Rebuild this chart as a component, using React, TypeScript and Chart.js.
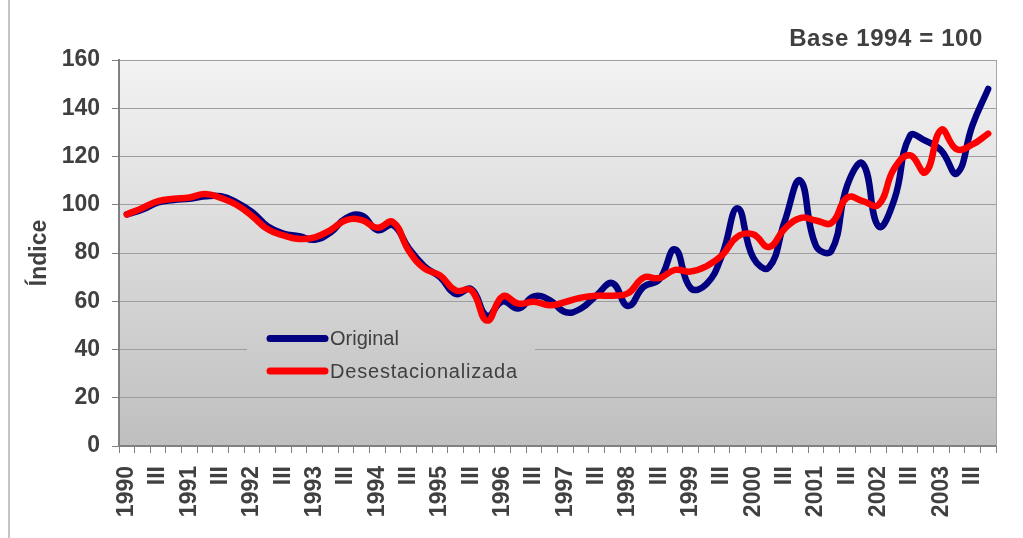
import React, { useEffect, useRef } from "react";
import { Chart, registerables } from "chart.js";

Chart.register(...registerables);

const years = [1990, 1991, 1992, 1993, 1994, 1995, 1996, 1997, 1998, 1999, 2000, 2001, 2002, 2003];
const quarterMarks = ["", "", "III", ""];
const seriesNames = ["Original", "Desestacionalizada"];
const chartTitle = "Base 1994 = 100";
const yAxisTitle = "Índice";
const yMin = 0;
const yMax = 160;
const yStep = 20;

const original = [
  96, 98, 101, 102, 102.5, 103.5, 103.5, 101,
  97, 91, 88, 87, 85.5, 88.5, 94.5, 95.5,
  89.5, 91.5, 82, 74.5, 70, 63, 65, 54,
  60, 57, 62, 60.5, 55.5, 57, 62.5, 67.5,
  58, 66, 69, 81.5, 65.5, 67, 79, 98.5,
  78, 74, 93, 110, 83, 81, 108, 117,
  91, 102, 128.5, 126.5, 122.5, 113, 133, 148,
];

const seasonallyAdjusted = [
  96, 98.7, 101.5, 102.5, 103, 104.5, 102.8, 100,
  95.3, 89.8, 87.3, 85.8, 86.5, 89.5, 93.6, 93.6,
  90.5, 92.8, 81, 73.6, 70.7, 64.5, 64.5, 52,
  62, 59, 59.8, 58.3, 59.7, 61.5, 62.3, 62.3,
  63.3, 69.8, 69.6, 73, 72.3, 74.5, 79, 86.8,
  87.7, 82.5, 90, 94.5, 93.5, 92.5, 103, 101.5,
  100, 115, 120.5, 113.5, 131, 123, 125, 129.5,
];

const labels = years.flatMap((y) => quarterMarks.map((q, i) => (i === 0 ? String(y) : q)));

const FONT = '"Liberation Sans", Arial, Helvetica, sans-serif';
const TEXT = "#404040";

function plotGradient(ctx: CanvasRenderingContext2D, top: number, bottom: number) {
  const g = ctx.createLinearGradient(0, top, 0, bottom);
  g.addColorStop(0, "#f3f3f3");
  g.addColorStop(1, "#bfbfbf");
  return g;
}

const backgroundPlugin = {
  id: "plotBackground",
  beforeDraw(chart: any) {
    const { ctx, chartArea } = chart;
    const { left, top, right, bottom } = chartArea;
    ctx.save();
    ctx.fillStyle = plotGradient(ctx, top, bottom);
    ctx.fillRect(left, top, right - left, bottom - top);
    ctx.restore();
  },
  beforeDatasetsDraw(chart: any) {
    const { ctx, chartArea } = chart;
    const { top, right, bottom } = chartArea;
    ctx.save();
    ctx.strokeStyle = "#a6a6a6";
    ctx.lineWidth = 1;
    ctx.beginPath();
    ctx.moveTo(right + 0.5, top);
    ctx.lineTo(right + 0.5, bottom);
    ctx.stroke();

    // legend box (same fill as plot background, hides grid lines)
    const bx = 247;
    const by = 322;
    const bw = 288;
    const bh = 68;
    ctx.fillStyle = plotGradient(ctx, top, bottom);
    ctx.fillRect(bx, by, bw, bh);

    const ds = chart.data.datasets;
    const rows = [338.5, 371];
    const spacing = ["0px", "0.8px"];
    [0, 1].forEach((di, r) => {
      const d = ds[di];
      const y = rows[r];
      ctx.strokeStyle = d.borderColor;
      ctx.lineWidth = 7;
      ctx.lineCap = "round";
      ctx.beginPath();
      ctx.moveTo(270, y);
      ctx.lineTo(325, y);
      ctx.stroke();
      ctx.fillStyle = TEXT;
      ctx.font = `20px ${FONT}`;
      (ctx as any).letterSpacing = spacing[r];
      ctx.textAlign = "left";
      ctx.textBaseline = "middle";
      ctx.fillText(d.label, 330, y + 1);
    });
    (ctx as any).letterSpacing = "0px";
    ctx.restore();
  },
  afterDraw(chart: any) {
    const { ctx } = chart;
    ctx.save();
    ctx.fillStyle = TEXT;
    ctx.font = `bold 24px ${FONT}`;
    (ctx as any).letterSpacing = "0.6px";
    ctx.textAlign = "right";
    ctx.textBaseline = "middle";
    ctx.fillText(chartTitle, 983, 39);
    (ctx as any).letterSpacing = "0px";
    ctx.restore();
  },
};

export default function App() {
  const canvasRef = useRef<HTMLCanvasElement | null>(null);

  useEffect(() => {
    if (!canvasRef.current) return;
    const chart = new Chart(canvasRef.current, {
      type: "line",
      data: {
        labels,
        datasets: [
          {
            label: seriesNames[0],
            data: original,
            borderColor: "#000080",
            backgroundColor: "#000080",
            borderWidth: 6.5,
            pointRadius: 0,
            tension: 0.45,
            borderCapStyle: "round",
            borderJoinStyle: "round",
            fill: false,
            order: 2,
          },
          {
            label: seriesNames[1],
            data: seasonallyAdjusted,
            borderColor: "#ff0000",
            backgroundColor: "#ff0000",
            borderWidth: 6.5,
            pointRadius: 0,
            tension: 0.45,
            borderCapStyle: "round",
            borderJoinStyle: "round",
            fill: false,
            order: 1,
          },
        ],
      },
      options: {
        animation: false,
        responsive: true,
        maintainAspectRatio: false,
        layout: { padding: { left: 0, right: 27, top: 60, bottom: 0 } },
        plugins: {
          legend: { display: false },
          title: { display: false },
          tooltip: { enabled: false },
        },
        scales: {
          x: {
            type: "category",
            offset: true,
            grid: {
              offset: true,
              drawOnChartArea: false,
              drawTicks: true,
              tickLength: 7,
              color: "#808080",
              tickColor: "#808080",
            },
            border: { color: "#808080", width: 2 },
            ticks: {
              autoSkip: false,
              maxRotation: 90,
              minRotation: 90,
              padding: 13,
              color: TEXT,
              font: { family: FONT, size: 23, weight: "bold" },
            },
            afterFit: (scale: any) => {
              scale.height = 92;
              scale.paddingLeft = 0;
              scale.paddingRight = 0;
            },
          },
          y: {
            min: yMin,
            max: yMax,
            ticks: {
              stepSize: yStep,
              padding: 12,
              color: TEXT,
              font: { family: FONT, size: 23, weight: "bold" },
            },
            grid: {
              color: "#9e9e9e",
              tickColor: "#808080",
              tickLength: 7,
              lineWidth: 1,
            },
            border: { color: "#808080", width: 2 },
            title: {
              display: true,
              text: yAxisTitle,
              color: TEXT,
              font: { family: FONT, size: 23, weight: "bold" },
              padding: { top: 26, bottom: 0 },
            },
            afterFit: (scale: any) => {
              scale.width = 119;
              scale.paddingTop = 0;
              scale.paddingBottom = 0;
            },
          },
        },
      },
      plugins: [backgroundPlugin],
    } as any);
    return () => chart.destroy();
  }, []);

  return (
    <div style={{ position: "fixed", left: 0, top: 0, width: 1023, height: 538, background: "#ffffff" }}>
      <div style={{ position: "absolute", left: 8, top: 0, width: 2, height: 538, background: "#c4c4c4" }} />
      <canvas ref={canvasRef} />
    </div>
  );
}
